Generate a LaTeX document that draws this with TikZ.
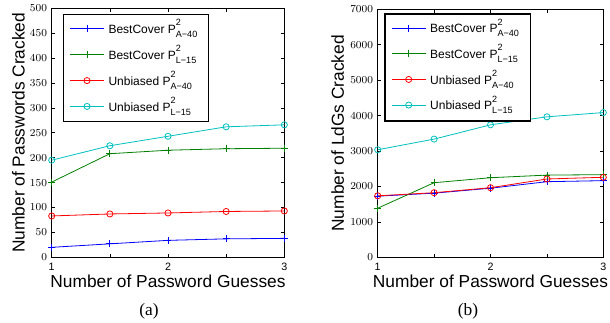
\documentclass[tikz,border=0pt]{standalone}
\usepackage{fontspec}
\setmainfont{Liberation Serif}
\setsansfont{Liberation Sans}
\usepackage{pgfplots}
\pgfplotsset{compat=1.18}
\definecolor{mgreen}{rgb}{0,0.5,0}
\definecolor{mcyan}{rgb}{0,0.75,0.75}
\newcommand{\Ptwo}[1]{P\rlap{\raisebox{5.7pt}{\fontsize{6.8}{7}\selectfont 2}}\raisebox{-3pt}{\fontsize{6.8}{7}\selectfont #1}}

\begin{document}
\begin{tikzpicture}[
  /pgfplots/crackaxis/.style={
    scale only axis, clip=false, enlargelimits=false,
    xmin=1, xmax=3, xtick={1,1.5,...,3}, xticklabels={1,,2,,3},
    ymin=0, scaled y ticks=false,
    /pgf/number format/1000 sep={},
    tick align=inside, major tick length=2.5pt,
    every tick/.style={black,line width=0.5pt},
    axis line style={line width=0.9pt},
    tick label style={font=\fontsize{8}{9}\selectfont\sffamily},
    xticklabel style={yshift=-0.8pt},
    label style={font=\fontsize{13}{15}\selectfont\sffamily},
    xlabel={Number of Password Guesses},
    xlabel style={at={(axis description cs:0.5,-0.098)},anchor=center}
  },
  bestA/.style={color=blue, line width=0.6pt, mark=+, mark size=2.6pt, mark options={solid}},
  bestL/.style={color=mgreen, line width=0.6pt, mark=+, mark size=2.6pt, mark options={solid}},
  unbA/.style={color=red, line width=0.6pt, mark=o, mark size=2.3pt, mark options={solid}},
  unbL/.style={color=mcyan, line width=0.6pt, mark=o, mark size=2.3pt, mark options={solid}},
  legbox/.style={draw, line width=0.9pt, fill=white, anchor=north west,
    minimum width=109pt, minimum height=80.25pt, inner sep=0pt, outer sep=0pt},
  legtext/.style={font=\fontsize{9}{10}\selectfont\sffamily, inner sep=0pt, anchor=base west},
  caption/.style={font=\fontsize{13}{15}\selectfont, inner sep=0pt}
]
\useasboundingbox (0,0) rectangle (457.5pt,242.25pt);

% (a) passwords
\begin{axis}[crackaxis, name=plotA, at={(38.78pt,49.28pt)}, anchor=south west,
  width=174.45pt, height=186.75pt, ymax=500, ytick={0,50,...,500},
  ylabel={Number of Passwords Cracked},
  ylabel style={at={(axis description cs:-0.143,0.5)},anchor=center}]
\addplot[bestA] coordinates {(1,20) (1.5,27) (2,34) (2.5,37) (3,38)};
\addplot[bestL] coordinates {(1,151) (1.5,208) (2,215) (2.5,218) (3,219)};
\addplot[unbA] coordinates {(1,83) (1.5,87) (2,89) (2.5,92) (3,93)};
\addplot[unbL] coordinates {(1,195) (1.5,224) (2,243) (2.5,262) (3,266)};
\end{axis}
\node[legbox] (legA) at (47.5pt,231.2pt) {};
\begin{scope}[shift={(legA.north west)}]
\foreach \sty/\txt [count=\i] in {bestA/BestCover \Ptwo{A−40}, bestL/BestCover \Ptwo{L−15},
    unbA/Unbiased \Ptwo{A−40}, unbL/Unbiased \Ptwo{L−15}} {
  \pgfmathsetmacro\yy{-10.6-(\i-1)*19.4}
  \draw[\sty] (5pt,\yy pt) -- (30.5pt,\yy pt);
  \path[\sty] plot coordinates {(17.75pt,\yy pt)};
  \node[legtext] (legA\i) at (33.7pt,\yy pt-3.5pt) {\txt};
}
\end{scope}
\node[caption] (capA) at (111.75pt,8.5pt) {(a)};

% (b) LdGs
\begin{axis}[crackaxis, name=plotB, at={(283.28pt,49.28pt)}, anchor=south west,
  width=169.2pt, height=186pt, ymax=7000, ytick={0,1000,...,7000},
  ylabel={Number of LdGs Cracked},
  ylabel style={at={(axis description cs:-0.178,0.5)},anchor=center}]
\addplot[bestA] coordinates {(1,1725) (1.5,1810) (2,1950) (2.5,2134) (3,2163)};
\addplot[bestL] coordinates {(1,1385) (1.5,2105) (2,2246) (2.5,2320) (3,2332)};
\addplot[unbA] coordinates {(1,1735) (1.5,1823) (2,1964) (2.5,2210) (3,2258)};
\addplot[unbL] coordinates {(1,3035) (1.5,3336) (2,3739) (2.5,3965) (3,4085)};
\end{axis}
\node[legbox] (legB) at (288.75pt,231.75pt) {};
\begin{scope}[shift={(legB.north west)}]
\foreach \sty/\txt [count=\i] in {bestA/BestCover \Ptwo{A−40}, bestL/BestCover \Ptwo{L−15},
    unbA/Unbiased \Ptwo{A−40}, unbL/Unbiased \Ptwo{L−15}} {
  \pgfmathsetmacro\yy{-10.7-(\i-1)*19.2}
  \draw[\sty] (5pt,\yy pt) -- (30.5pt,\yy pt);
  \path[\sty] plot coordinates {(17.75pt,\yy pt)};
  \node[legtext] (legB\i) at (33.7pt,\yy pt-3.5pt) {\txt};
}
\end{scope}
\node[caption] (capB) at (351pt,8.5pt) {(b)};
\end{tikzpicture}
\end{document}
